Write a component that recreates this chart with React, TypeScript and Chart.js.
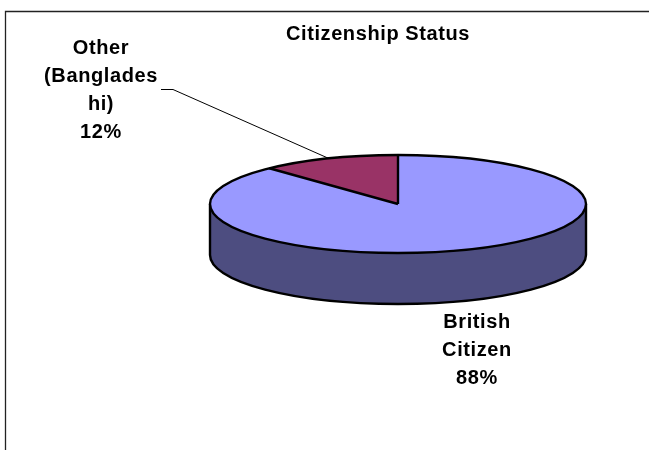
import React, { useEffect, useRef } from "react";
import { Chart, registerables } from "chart.js";

Chart.register(...registerables);

const categories = ["British Citizen", "Other (Bangladeshi)"];
const shares = [88, 12];
const sliceColors = ["#9999FF", "#993366"];
const wallColors = ["#4D4D80", "#4D1A33"];
const chartTitle = "Citizenship Status";
const labelLines = [["British", "Citizen"], ["Other", "(Banglades", "hi)"]];

const FONT = 'bold 20px "Liberation Sans", Arial, sans-serif';
const TILT = 49 / 188;
const DEPTH = 51;

// Pie drawn flat by Chart.js, then squashed into a disc with a side wall.
const discPlugin = {
  id: "disc",
  beforeDraw(chart: any) {
    const { ctx } = chart;
    ctx.save();
    ctx.fillStyle = "#ffffff";
    ctx.fillRect(0, 0, chart.width, chart.height);
    ctx.strokeStyle = "#222222";
    ctx.lineWidth = 1.3;
    ctx.beginPath();
    ctx.moveTo(5.5, chart.height);
    ctx.lineTo(5.5, 11.5);
    ctx.lineTo(chart.width, 11.5);
    ctx.stroke();
    ctx.restore();
  },
  beforeDatasetsDraw(chart: any) {
    const { ctx } = chart;
    const arcs = chart.getDatasetMeta(0).data;
    const { x, y, outerRadius: r } = arcs[0];
    const ry = r * TILT;

    // Side wall: only the part of each slice that faces the viewer.
    ctx.save();
    arcs.forEach((arc: any, i: number) => {
      const spans = [
        [arc.startAngle, arc.endAngle],
        [arc.startAngle + 2 * Math.PI, arc.endAngle + 2 * Math.PI],
      ];
      spans.forEach(([s, e]) => {
        const a = Math.max(s, 0);
        const b = Math.min(e, Math.PI);
        if (b <= a) return;
        ctx.beginPath();
        ctx.ellipse(x, y, r, ry, 0, a, b);
        ctx.ellipse(x, y + DEPTH, r, ry, 0, b, a, true);
        ctx.closePath();
        ctx.fillStyle = wallColors[i];
        ctx.fill();
      });
    });
    ctx.strokeStyle = "#000000";
    ctx.lineWidth = 2.4;
    ctx.beginPath();
    ctx.moveTo(x - r, y);
    ctx.lineTo(x - r, y + DEPTH);
    ctx.ellipse(x, y + DEPTH, r, ry, 0, Math.PI, 0, true);
    ctx.lineTo(x + r, y);
    ctx.stroke();
    ctx.restore();

    ctx.save();
    ctx.translate(x, y);
    ctx.scale(1, TILT);
    ctx.translate(-x, -y);
  },
  afterDatasetsDraw(chart: any) {
    const { ctx } = chart;
    ctx.restore();

    const arcs = chart.getDatasetMeta(0).data;
    const { x, y, outerRadius: r } = arcs[0];
    const ry = r * TILT;

    // Rim and slice edges keep an even width, so they go on after the squash.
    ctx.save();
    ctx.strokeStyle = "#000000";
    ctx.lineWidth = 2.4;
    ctx.beginPath();
    ctx.ellipse(x, y, r, ry, 0, 0, 2 * Math.PI);
    ctx.stroke();
    ctx.beginPath();
    arcs.forEach((arc: any) => {
      ctx.moveTo(x, y);
      ctx.lineTo(x + r * Math.cos(arc.startAngle), y + ry * Math.sin(arc.startAngle));
    });
    ctx.stroke();

    // Leader from the small slice's label to the middle of its rim.
    const other = arcs[1];
    const mid = (other.startAngle + other.endAngle) / 2;
    ctx.lineWidth = 1;
    ctx.beginPath();
    ctx.moveTo(161, 89.5);
    ctx.lineTo(173, 89.5);
    ctx.lineTo(x + r * Math.cos(mid), y + ry * Math.sin(mid));
    ctx.stroke();

    ctx.fillStyle = "#000000";
    ctx.font = FONT;
    ctx.letterSpacing = "0.6px";
    ctx.textAlign = "center";
    ctx.textBaseline = "middle";
    ctx.fillText(chartTitle, 378, 34);
    [...labelLines[1], `${shares[1]}%`].forEach((line, i) => {
      ctx.fillText(line, 101, 48 + i * 28.3);
    });
    [...labelLines[0], `${shares[0]}%`].forEach((line, i) => {
      ctx.fillText(line, 477, 322 + i * 28);
    });
    ctx.restore();
  },
};

export default function App() {
  const ref = useRef<HTMLCanvasElement>(null);

  useEffect(() => {
    const chart = new Chart(ref.current!, {
      type: "pie",
      data: {
        labels: categories,
        datasets: [
          {
            data: shares,
            backgroundColor: sliceColors,
            borderWidth: 0,
            hoverOffset: 0,
          },
        ],
      },
      options: {
        responsive: false,
        animation: false,
        layout: { padding: { left: 210, right: 63, top: 16, bottom: 58 } },
        plugins: { legend: { display: false }, tooltip: { enabled: false } },
      },
      plugins: [discPlugin],
    });
    return () => chart.destroy();
  }, []);

  return (
    <canvas
      ref={ref}
      width={649}
      height={450}
      style={{ position: "absolute", left: 0, top: 0, display: "block" }}
    />
  );
}
